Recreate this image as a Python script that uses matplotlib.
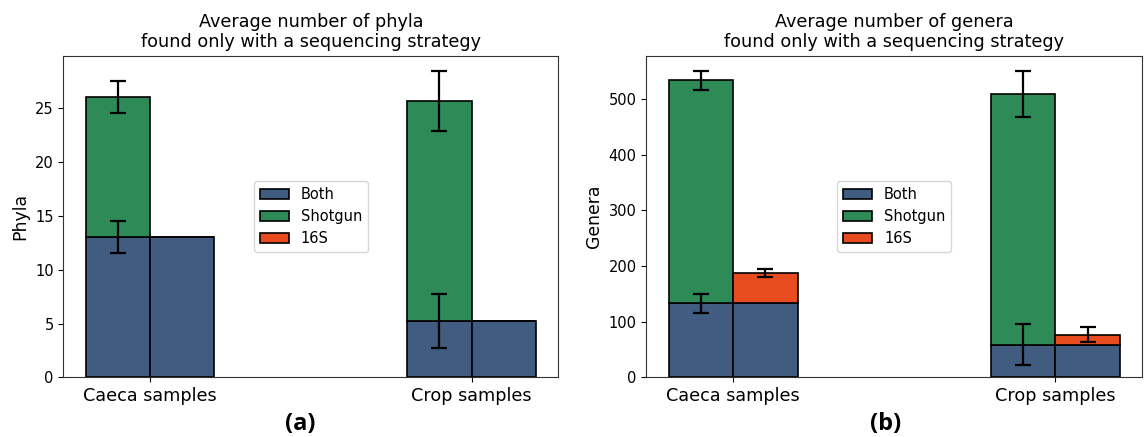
import numpy as np
import matplotlib.pyplot as plt

# Data
groups = ['Caeca samples', 'Crop samples']
series = ['Both', 'Shotgun', '16S']

phyla_both = [13.0, 5.2]
phyla_both_err = [1.5, 2.5]
phyla_shotgun = [13.0, 20.4]
phyla_shotgun_err = [1.5, 2.8]
phyla_16s = [0.0, 0.0]
phyla_16s_err = [0.0, 0.0]

genera_both = [133, 59]
genera_both_err = [17, 37]
genera_shotgun = [400, 450]
genera_shotgun_err = [17, 41]
genera_16s = [54, 18]
genera_16s_err = [7, 14]

colors = {'Both': '#405c80', 'Shotgun': '#2e8b57', '16S': '#e84b20'}


def stacked_panel(ax, both, both_err, shot, shot_err, s16, s16_err, ylabel, title):
    x = np.arange(len(groups))
    w = 0.2
    both = np.array(both, dtype=float)
    shot = np.array(shot, dtype=float)
    s16 = np.array(s16, dtype=float)
    kw = dict(width=w, edgecolor='black', linewidth=1.2)
    ekw = dict(ecolor='black', capsize=5.5, error_kw=dict(elinewidth=1.6, capthick=1.6))

    # "Both" is shared by the two halves of each group
    ax.bar(x - w / 2, both, color=colors['Both'], label='Both', yerr=both_err, **kw, **ekw)
    ax.bar(x + w / 2, both, color=colors['Both'], **kw)
    ax.bar(x - w / 2, shot, bottom=both, color=colors['Shotgun'], label='Shotgun',
           yerr=shot_err, **kw, **ekw)
    if np.any(s16 > 0):
        ax.bar(x + w / 2, s16, bottom=both, color=colors['16S'], label='16S',
               yerr=s16_err, **kw, **ekw)
    else:
        ax.bar(x + w / 2, s16, bottom=both, color=colors['16S'], label='16S', **kw)

    ax.set_xticks(x)
    ax.set_xticklabels(groups, fontsize=12.7)
    ax.tick_params(axis='y', labelsize=10.5)
    ax.set_ylabel(ylabel, fontsize=12.4, labelpad=4)
    ax.set_title(title, fontsize=12.7)
    ax.legend(loc='center', fontsize=10.5)
    for sp in ax.spines.values():
        sp.set_color('#333333')


fig = plt.figure(figsize=(11.46, 4.37), dpi=100)
ax1 = fig.add_axes([63.4 / 1146, 0.1362, 495.0 / 1146, 0.7364])
ax2 = fig.add_axes([646.3 / 1146, 0.1362, 496.0 / 1146, 0.7364])

stacked_panel(ax1, phyla_both, phyla_both_err, phyla_shotgun, phyla_shotgun_err,
              phyla_16s, phyla_16s_err, 'Phyla',
              'Average number of phyla\nfound only with a sequencing strategy')
stacked_panel(ax2, genera_both, genera_both_err, genera_shotgun, genera_shotgun_err,
              genera_16s, genera_16s_err, 'Genera',
              'Average number of genera\nfound only with a sequencing strategy')

fig.text(300 / 1146, 1 - 424 / 437, '(a)', fontsize=17, fontweight='bold',
         family='Open Sans', ha='center', va='center')
fig.text(886 / 1146, 1 - 424 / 437, '(b)', fontsize=17, fontweight='bold',
         family='Open Sans', ha='center', va='center')

fig.savefig('out.png', dpi=100)
